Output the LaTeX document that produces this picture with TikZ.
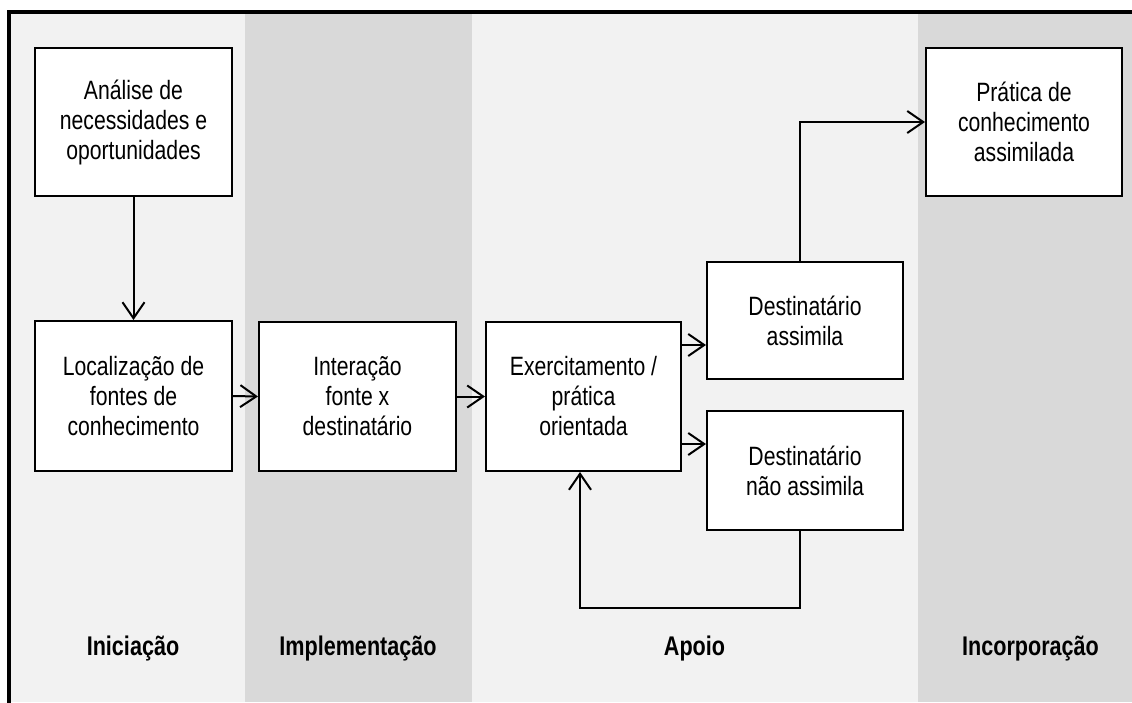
\documentclass[tikz,border=0pt]{standalone}
\usepackage{fontspec}
\setmainfont[FakeStretch=0.8]{Liberation Sans}
\usetikzlibrary{arrows.meta}
\definecolor{lanelight}{HTML}{F2F2F2}
\definecolor{lanedark}{HTML}{D9D9D9}
\tikzset{
  stepbox/.style={draw=black, line width=2pt, fill=white, align=center, inner sep=0pt,
    font=\fontsize{26.5}{30}\selectfont},
  flow/.style={draw=black, line width=2pt, -{Straight Barb[length=16pt,width=22pt,line width=2pt]}},
  lanelabel/.style={anchor=base, font=\fontsize{27}{30}\selectfont\bfseries}
}
\begin{document}
\begin{tikzpicture}[x=1pt,y=-1pt]
\useasboundingbox (0,0) rectangle (1132,702);
% lanes
\fill[white] (0,0) rectangle (1132,702);
\fill[lanelight] (9,12) rectangle (245,702);
\fill[lanedark] (245,12) rectangle (472,702);
\fill[lanelight] (472,12) rectangle (918,702);
\fill[lanedark] (918,12) rectangle (1132,702);
\draw[line width=3.5pt, line cap=rect] (9,702) -- (9,12) -- (1132,12);
% boxes
\node[stepbox, minimum width=197pt, minimum height=148pt] (a) at (133.5,122) {Análise de\\necessidades e\\oportunidades};
\node[stepbox, minimum width=197pt, minimum height=150pt] (b) at (133.5,396) {Localização de\\fontes de\\conhecimento};
\node[stepbox, minimum width=197pt, minimum height=149pt] (c) at (357.5,396.5) {Interação\\fonte x\\destinatário};
\node[stepbox, minimum width=195pt, minimum height=149pt] (d) at (583.5,396.5) {Exercitamento /\\prática\\orientada};
\node[stepbox, minimum width=196pt, minimum height=117pt] (e) at (805,320.5) {Destinatário\\assimila};
\node[stepbox, minimum width=196pt, minimum height=119pt] (f) at (805,470.5) {Destinatário\\não assimila};
\node[stepbox, minimum width=196pt, minimum height=148pt] (g) at (1024,122) {Prática de\\conhecimento\\assimilada};
% connectors
\draw[flow] (a.south) -- (b.north);
\draw[flow] (b.east) -- (c.west);
\draw[flow] (c.east) -- (d.west);
\draw[flow] (d.east |- 0,345) -- (e.west |- 0,345);
\draw[flow] (d.east |- 0,444) -- (f.west |- 0,444);
\coordinate (up) at (800,122);
\draw[flow] (e.north -| up) -- (up) -- (g.west |- up);
\coordinate (lr) at (800,608);
\coordinate (ll) at (580,608);
\draw[flow] (f.south -| lr) -- (lr) -- (ll) -- (d.south -| ll);
% lane labels
\node[lanelabel] (l1) at (133,655) {Iniciação};
\node[lanelabel] (l2) at (358,655) {Implementação};
\node[lanelabel] (l3) at (694.5,655) {Apoio};
\node[lanelabel] (l4) at (1030.5,655) {Incorporação};
\end{tikzpicture}
\end{document}
